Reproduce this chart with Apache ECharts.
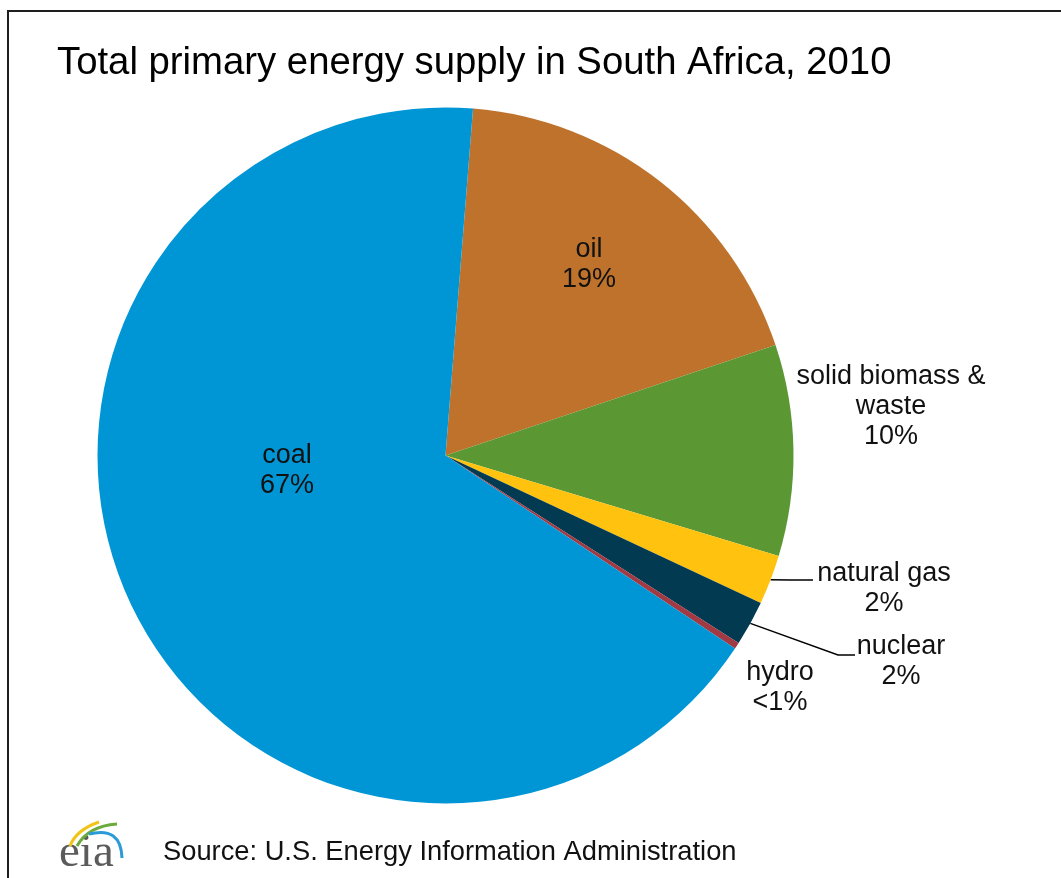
<!DOCTYPE html>
<html>
<head>
<meta charset="utf-8">
<script src="https://cdn.jsdelivr.net/npm/echarts@6/dist/echarts.min.js"></script>
<style>
  html, body { margin: 0; padding: 0; background: #ffffff; }
  #chart { width: 1061px; height: 878px; }
</style>
</head>
<body>
<div id="chart"></div>
<script>
// Primary energy supply shares, South Africa 2010 (percent of total)
const categories = ['oil', 'solid biomass &\nwaste', 'natural gas', 'nuclear', 'hydro', 'coal'];
const shares = [18.6, 9.8, 2.3, 2.1, 0.3, 66.9];
const sliceColors = ['#be722b', '#5b9834', '#ffc20e', '#023a52', '#a23a43', '#0096d6'];

const titleText = 'Total primary energy supply in South Africa, 2010';
const sourceText = 'Source: U.S. Energy Information Administration';

// Where each label block is centred, and which labels get a leader line
const labelCentres = [[589, 265], [891, 407], [884, 589], [901, 662], [780, 688], [287, 471]];
const leaderBends = { 2: [[790, 580], [813, 580]], 3: [[838, 655], [855, 655]] };

const FONT = '"Liberation Sans", Arial, sans-serif';

const chart = echarts.init(document.getElementById('chart'), null, { renderer: 'canvas' });

function pctText(p) {
  const r = Math.round(p);
  return r < 1 ? '<1%' : r + '%';
}

const seriesData = categories.map((name, i) => ({
  name: name,
  value: shares[i],
  itemStyle: { color: sliceColors[i] },
  labelLine: { show: leaderBends[i] !== undefined }
}));

chart.setOption({
  animation: false,
  backgroundColor: '#ffffff',
  title: {
    text: titleText,
    left: 52,
    top: 39,
    textStyle: { fontFamily: FONT, fontSize: 38.3, fontWeight: 'normal', color: '#000000' }
  },
  series: [{
    type: 'pie',
    center: [445.5, 455.5],
    radius: 348,
    startAngle: 85.46,
    clockwise: true,
    avoidLabelOverlap: false,
    data: seriesData,
    itemStyle: { borderWidth: 0 },
    emphasis: { disabled: true },
    label: {
      show: true,
      position: 'outside',
      fontFamily: FONT,
      fontSize: 27,
      lineHeight: 30,
      color: '#111111',
      formatter: p => p.name + '\n' + pctText(p.percent)
    },
    labelLine: {
      show: true,
      length: 20,
      length2: 20,
      smooth: false,
      lineStyle: { color: '#000000', width: 1.5 }
    },
    labelLayout: function (params) {
      const i = params.dataIndex;
      const c = labelCentres[i];
      const out = { x: c[0], y: c[1], align: 'center', verticalAlign: 'middle' };
      if (leaderBends[i] && params.labelLinePoints) {
        out.labelLinePoints = [params.labelLinePoints[0]].concat(leaderBends[i]);
      }
      return out;
    }
  }],
  graphic: [
    {
      type: 'rect',
      silent: true,
      shape: { x: 8, y: 11, width: 1100, height: 920 },
      style: { fill: 'none', stroke: '#1e1e1e', lineWidth: 2 }
    },
    {
      type: 'text',
      silent: true,
      style: {
        x: 163, y: 852,
        text: sourceText,
        font: '27.3px ' + FONT,
        fill: '#111111',
        align: 'left',
        verticalAlign: 'middle'
      }
    },
    // eia logo: wordmark with three swooshes
    {
      type: 'text',
      silent: true,
      style: {
        x: 59, y: 854,
        text: 'eia',
        font: '47px "Liberation Serif", "Times New Roman", serif',
        fill: '#5b5b5b',
        align: 'left',
        verticalAlign: 'middle'
      }
    },
    {
      type: 'bezierCurve',
      silent: true,
      shape: { x1: 70, y1: 846, cpx1: 76, cpy1: 830, x2: 99, y2: 822 },
      style: { fill: 'none', stroke: '#f1c417', lineWidth: 3 }
    },
    {
      type: 'bezierCurve',
      silent: true,
      shape: { x1: 77, y1: 846, cpx1: 88, cpy1: 826, x2: 117, y2: 824 },
      style: { fill: 'none', stroke: '#6aab3c', lineWidth: 3 }
    },
    {
      type: 'bezierCurve',
      silent: true,
      shape: { x1: 89, y1: 834, cpx1: 121, cpy1: 826, x2: 122, y2: 858 },
      style: { fill: 'none', stroke: '#2b9bd7', lineWidth: 3 }
    }
  ]
});
</script>
</body>
</html>
